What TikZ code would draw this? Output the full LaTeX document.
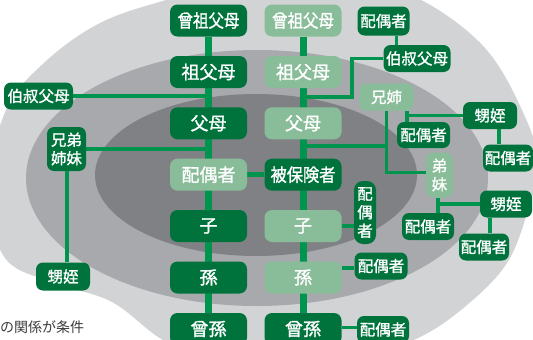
\documentclass[tikz,border=0pt]{standalone}
\usepackage{fontspec}
\newfontfamily\jp[FakeBold=1.3]{Noto Sans CJK JP}
\newfontfamily\jpc{Noto Sans CJK JP}
\pgfdeclarelayer{ell}
\pgfdeclarelayer{bg}
\pgfsetlayers{ell,bg,main}
\definecolor{gOut}{HTML}{D2D3D5}
\definecolor{gMid}{HTML}{A8A9AC}
\definecolor{gIn}{HTML}{808185}
\definecolor{dkg}{HTML}{00733D}
\definecolor{ltg}{HTML}{89BD99}
\definecolor{lng}{HTML}{00954F}
\definecolor{captxt}{HTML}{3A3A3A}
\begin{document}
\begin{tikzpicture}[x=1pt,y=-1pt,
  colbox/.style={rounded corners=7.5pt, inner sep=0pt, text=white,
    font=\jp\fontsize{18}{18}\selectfont, minimum width=77pt, minimum height=32pt},
  dk/.style={colbox, fill=dkg},
  lt/.style={colbox, fill=ltg},
  sbox/.style={rounded corners=7pt, inner sep=0pt, text=white, fill=dkg,
    font=\jp\fontsize{15.5}{18.5}\selectfont, minimum height=27pt, align=center},
  sboxl/.style={sbox, fill=ltg},
  mainln/.style={draw=lng, line width=7pt},
  midln/.style={draw=lng, line width=5pt},
  sideln/.style={draw=lng, line width=3.6pt},
]
\useasboundingbox (0,0) rectangle (533,340);
\begin{pgfonlayer}{ell}
\clip (0,0) rectangle (533,340);
\fill[gOut] plot[smooth cycle, tension=0.6] coordinates {
  (166,0) (235,-17) (300,-22) (370,-14) (425,2) (485,48) (522,110) (538,162)
  (528,210) (507,263) (467,305) (418,338) (350,360) (280,364) (210,355)
  (163,340) (112,302) (55,283) (5,258) (-12,190) (6,110) (45,62) (100,23)};
\fill[gMid] (257,178) ellipse [x radius=231pt, y radius=128pt];
\fill[gIn] (256,175) ellipse [x radius=161pt, y radius=81pt];
\end{pgfonlayer}

% left column
\node[dk] (hsL) at (208.5,20.5) {\scalebox{0.86}[1]{曾祖父母}};
\node[dk] (sfL) at (208.5,72) {祖父母};
\node[dk] (fbL) at (208.5,123.3) {父母};
\node[lt] (spL) at (208.5,174.7) {配偶者};
\node[dk] (koL) at (208.5,226) {子};
\node[dk] (mgL) at (208.5,277.5) {孫};
\node[dk] (hmL) at (208.5,329) {曾孫};
% right column
\node[lt] (hsR) at (303,20.5) {\scalebox{0.86}[1]{曾祖父母}};
\node[lt] (sfR) at (303,72) {祖父母};
\node[lt] (fbR) at (303,123.3) {父母};
\node[dk] (ins) at (303,174.7) {\scalebox{0.9}[1]{被保険者}};
\node[lt] (koR) at (303,226) {子};
\node[lt] (mgR) at (303,277.5) {孫};
\node[dk] (hmR) at (303,329) {曾孫};
% left side
\node[sbox, minimum width=69pt] (bsL) at (38.5,96) {伯叔父母};
\node[sbox, minimum width=39pt, minimum height=44pt] (kyL) at (66.5,149) {兄弟\\姉妹};
\node[sbox, minimum width=54pt, minimum height=28pt] (oiL) at (63,276.5) {甥姪};
% right side
\node[sbox, minimum width=52pt, minimum height=29pt] (sp1) at (383.5,21) {配偶者};
\node[sbox, minimum width=67pt] (bsR) at (417,58.5) {伯叔父母};
\node[sboxl, minimum width=54pt] (ane) at (386.5,97) {兄姉};
\node[sbox, minimum width=53pt, minimum height=26pt] (sp2) at (423.5,135) {配偶者};
\node[sbox, minimum width=54pt] (oi1) at (490,115.5) {甥姪};
\node[sbox, minimum width=50pt] (sp3) at (508,158) {配偶者};
\node[sboxl, minimum width=27pt, minimum height=45pt, rounded corners=8pt] (imo) at (439.5,175) {弟\\妹};
\node[sbox, minimum width=52pt] (sp4) at (428,226.5) {配偶者};
\node[sbox, minimum width=52pt] (oi2) at (506,204) {甥姪};
\node[sbox, minimum width=50pt] (sp5) at (484,247) {配偶者};
\node[sbox, minimum width=22pt, minimum height=63pt, rounded corners=9pt] (sp6) at (365,212.5) {配\\偶\\者};
\node[sbox, minimum width=53pt] (sp7) at (381,266) {配偶者};
\node[sbox, minimum width=52pt] (sp8) at (383,329.5) {配偶者};
% caption
\node[anchor=west, inner sep=0pt, text=captxt, font=\jpc\fontsize{14}{14}\selectfont] (cap) at (0,327) {の関係が条件};

\coordinate (jA) at (352,97);
\coordinate (jC) at (386.5,146);

\begin{pgfonlayer}{bg}
\draw[mainln] (hsL) -- (hmL);
\draw[mainln] (hsR) -- (hmR);
\draw[midln] (spL) -- (ins);
\draw[sideln, line width=4pt] (bsL.east) -- (bsL.east -| fbL);
\draw[sideln, line width=4pt] (kyL.east) -- (kyL.east -| fbL);
\draw[sideln, line width=4pt] (kyL.south) -- (kyL.south |- oiL.north);
\draw[sideln] ([xshift=13pt]sp1.south) -- ([xshift=13pt]sp1.south |- bsR.north);
\draw[sideln] (bsR.west) -| (jA) -- (jA -| fbR);
\draw[sideln] (jC) -- (jC -| fbR);
\draw[sideln] (ane.south) |- ([yshift=2.5pt]imo.west);
\draw[sideln] ([xshift=20.5pt]ane.south) -- ([xshift=20.5pt]ane.south |- sp2.north);
\draw[sideln] ([xshift=20.5pt]ane.south |- oi1.west) -- (oi1.west);
\draw[sideln] ([xshift=9pt]oi1.south) -- ([xshift=9pt]oi1.south |- sp3.north);
\draw[sideln] ([xshift=-1.5pt]imo.south) -- ([xshift=-1.5pt]imo.south |- sp4.north);
\draw[sideln] ([xshift=-1.5pt]imo.south |- oi2.west) -- (oi2.west);
\draw[sideln] ([xshift=-16pt]oi2.south) -- ([xshift=-16pt]oi2.south |- sp5.north);
\draw[sideln] (koR.east) -- (koR.east -| sp6.west);
\draw[sideln] ([yshift=-2pt]sp7.west) -- ([yshift=-2pt]sp7.west -| mgR.east);
\draw[sideln] ([yshift=2pt]sp8.west) -- ([yshift=2pt]sp8.west -| hmR.east);
\end{pgfonlayer}
\end{tikzpicture}
\end{document}
